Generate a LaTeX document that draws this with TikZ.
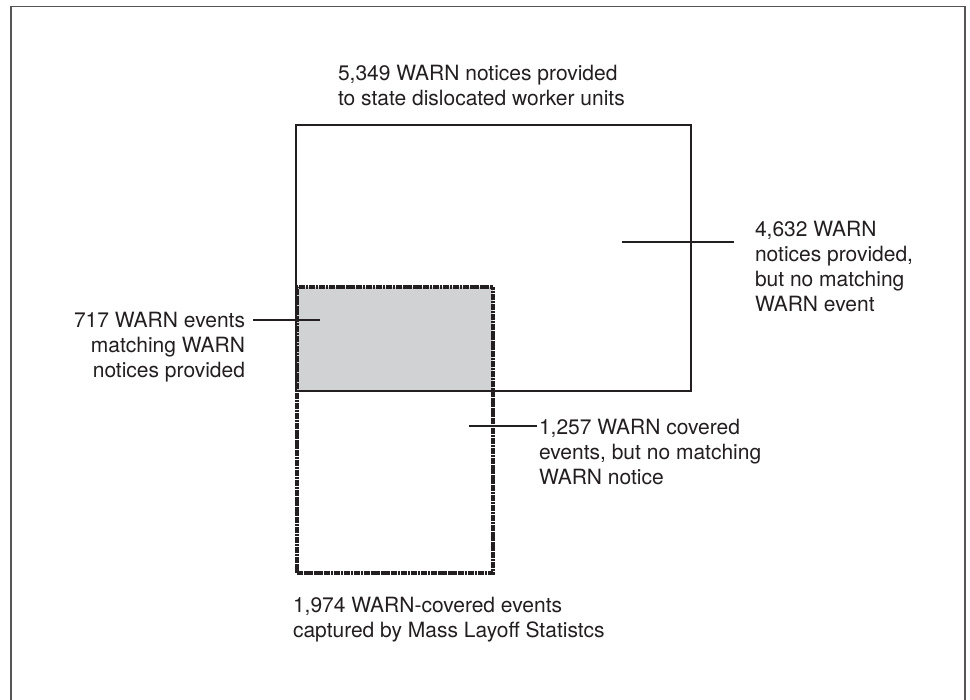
\documentclass[tikz,border=0pt]{standalone}
\usepackage{fontspec}
\setmainfont{TeX Gyre Heros}
\definecolor{ink}{HTML}{231F20}
\definecolor{fillgray}{HTML}{D1D2D4}
\definecolor{framegray}{HTML}{555555}
\begin{document}
\begin{tikzpicture}[x=1pt,y=-1pt,
  lbl/.style={inner sep=0pt,outer sep=0pt,text=ink,font=\fontsize{21}{25}\selectfont},
  lblL/.style={lbl,anchor=north west,align=left},
  lblR/.style={lbl,anchor=north east,align=right},
  solidbox/.style={draw=ink,line width=2.8pt},
  dotbox/.style={draw=ink,line width=4.3pt,dash pattern=on 2.8pt off 0.55pt},
  leader/.style={draw=ink,line width=1.5pt},
  framebox/.style={draw=framegray,line width=1.6pt}]
\useasboundingbox (0,0) rectangle (970,700);
\fill[white] (0,0) rectangle (970,700);
% outer frame
\draw[framebox] (11,710) -- (11,6.5) -- (965,6.5) -- (965,710);
% overlap fill
\fill[fillgray] (297,287) rectangle (493,391);
% top box
\node[solidbox,inner sep=0pt,outer sep=0pt,minimum width=395pt,minimum height=266pt,anchor=north west] (notices) at (296,125) {};
% dotted box
\node[dotbox,inner sep=0pt,outer sep=0pt,minimum width=196pt,minimum height=286pt,anchor=north west] (events) at (297,287) {};
% labels
\node[lblL] (ltop) at (338,65) {5,349 WARN notices provided\\to state dislocated worker units};
\node[lblL] (lright) at (755,221) {4,632 WARN\\notices provided,\\but no matching\\WARN event};
\node[lblR] (lleft) at (245,312) {717 WARN events\\matching WARN\\notices provided};
\node[lblL] (lmid) at (539,419) {1,257 WARN covered\\events, but no matching\\WARN notice};
\node[lblL] (lbot) at (293,597) {1,974 WARN-covered events\\captured by Mass Layoff Statistcs};
% leader coordinates
\coordinate (r1) at (622,242);
\coordinate (r2) at (734,242);
\coordinate (l1) at (253,320);
\coordinate (l2) at (320,320);
\coordinate (m1) at (469,426);
\coordinate (m2) at (537,426);
\draw[leader] (r1) -- (r2);
\draw[leader] (l1) -- (l2);
\draw[leader] (m1) -- (m2);
\end{tikzpicture}
\end{document}
